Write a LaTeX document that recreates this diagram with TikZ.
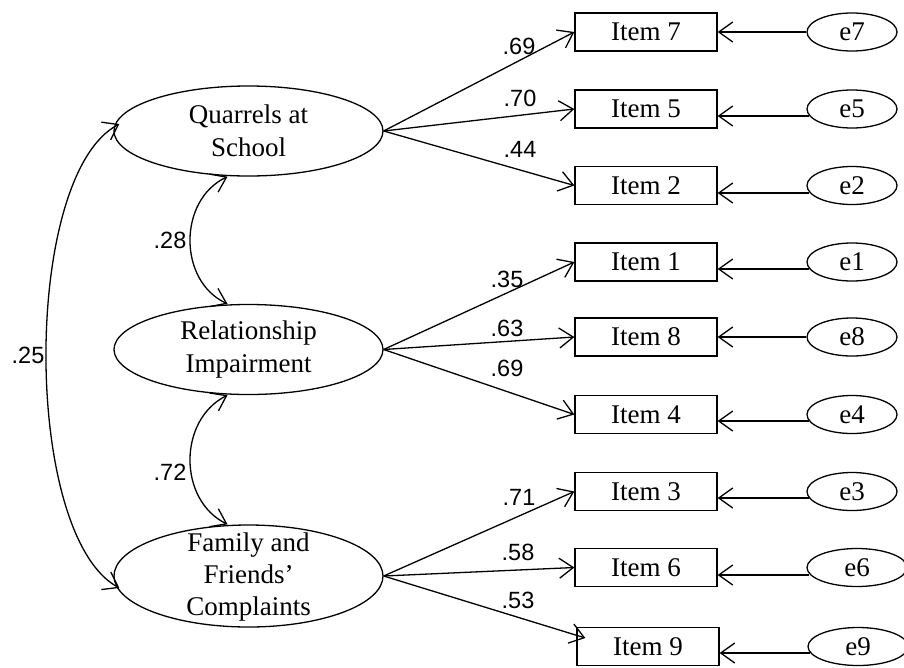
\documentclass[tikz,border=0pt]{standalone}
\usepackage{fontspec}
\setmainfont{Liberation Serif}
\newfontfamily\numfont{Liberation Sans}
\usetikzlibrary{shapes.geometric,arrows.meta}
\begin{document}
\begin{tikzpicture}[x={(1pt,0pt)},y={(0pt,-1pt)},
  latent/.style={ellipse, draw, line width=1.3pt, minimum width=269pt, minimum height=90pt, inner sep=0pt, font=\fontsize{27}{33}\selectfont, align=center},
  lbl/.style={inner sep=0pt, font=\fontsize{27}{32}\selectfont, align=center},
  item/.style={rectangle, draw, line width=1.3pt, minimum width=142pt, minimum height=38pt, inner sep=0pt, font=\fontsize{27}{30}\selectfont},
  err/.style={ellipse, draw, line width=1.3pt, minimum width=90pt, minimum height=38pt, inner sep=0pt, font=\fontsize{27}{30}\selectfont},
  coef/.style={inner sep=0pt, font=\numfont\fontsize{23.5}{24}\selectfont},
  barb/.tip={Straight Barb[length=14pt,width=20pt]},
  load/.style={line width=1.3pt, -barb},
  cov/.style={line width=1.3pt, barb-barb}]
\useasboundingbox (0,0) rectangle (904,667);

% latent factors
\node[latent] (q) at (248.5,131) {Quarrels at\\School};
\node[latent] (r) at (248.5,349.5) {Relationship\\Impairment};
\node[latent, minimum height=102pt] (f) at (248.5,576) {};
\node[lbl] (ftext) at (248.5,577) {Family and\\Friends’\\Complaints};

% items
\node[item] (i7) at (646,32) {Item 7};
\node[item] (i5) at (646,109) {Item 5};
\node[item] (i2) at (646,185.5) {Item 2};
\node[item] (i1) at (646,262) {Item 1};
\node[item] (i8) at (646,337) {Item 8};
\node[item] (i4) at (646,414.5) {Item 4};
\node[item] (i3) at (646,491.5) {Item 3};
\node[item] (i6) at (646,567.5) {Item 6};
\node[item] (i9) at (648,646.5) {Item 9};

% errors
\node[err] (e7) at (852,32) {e7};
\node[err] (e5) at (852,109) {e5};
\node[err] (e2) at (852,185.5) {e2};
\node[err] (e1) at (852,262) {e1};
\node[err] (e8) at (852,337) {e8};
\node[err] (e4) at (852,414.5) {e4};
\node[err] (e3) at (852,491.5) {e3};
\node[err, minimum width=100pt] (e6) at (857,567.5) {e6};
\node[err, minimum width=100pt] (e9) at (858,646.5) {e9};

% loadings
\draw[load] (q.east) -- (i7.west);
\draw[load] (q.east) -- (i5.west);
\draw[load] (q.east) -- (i2.west);
\draw[load] (r.east) -- (i1.west);
\draw[load] (r.east) -- (i8.west);
\draw[load] (r.east) -- (i4.west);
\draw[load] (f.east) -- (i3.west);
\draw[load] (f.east) -- (i6.west);
\draw[load] (f.east) -- ([xshift=9pt,yshift=8.5pt]i9.west);

% error paths
\draw[load] (e7.west) -- (i7.east);
\draw[load] ([xshift=3pt,yshift=-7pt]e5.west) -- ([yshift=-7pt]i5.east);
\draw[load] ([xshift=3pt,yshift=-7.5pt]e2.west) -- ([yshift=-7.5pt]i2.east);
\draw[load] ([xshift=3pt,yshift=-7pt]e1.west) -- ([yshift=-7pt]i1.east);
\draw[load] (e8.west) -- (i8.east);
\draw[load] ([xshift=3pt,yshift=-6.5pt]e4.west) -- ([yshift=-6.5pt]i4.east);
\draw[load] ([xshift=3pt,yshift=-6.5pt]e3.west) -- ([yshift=-6.5pt]i3.east);
\draw[load] ([xshift=3pt,yshift=-7.5pt]e6.west) -- ([yshift=-7.5pt]i6.east);
\draw[load] ([xshift=3pt,yshift=-6.5pt]e9.west) -- ([yshift=-6.5pt]i9.east);

% covariances
\draw[cov] ([xshift=-21pt]q.south) .. controls (178,200) and (178,281) .. ([xshift=-21pt]r.north);
\draw[cov] ([xshift=-21pt]r.south) .. controls (178,420) and (178,500) .. ([xshift=-21pt]f.north);
\draw[cov] ([xshift=6pt,yshift=7pt]q.west) .. controls (22,175) and (22,535) .. ([xshift=6pt,yshift=-12pt]f.west);

% coefficients
\node[coef] (c69a) at (519,46) {.69};
\node[coef] (c70) at (520,98) {.70};
\node[coef] (c44) at (520,149) {.44};
\node[coef] (c35) at (507,279) {.35};
\node[coef] (c63) at (507,328) {.63};
\node[coef] (c69b) at (507,368) {.69};
\node[coef] (c71) at (519,497) {.71};
\node[coef] (c58) at (518,552) {.58};
\node[coef] (c53) at (518,600) {.53};
\node[coef] (c28) at (170,240) {.28};
\node[coef] (c72) at (170,472) {.72};
\node[coef] (c25) at (28,355) {.25};
\end{tikzpicture}
\end{document}
